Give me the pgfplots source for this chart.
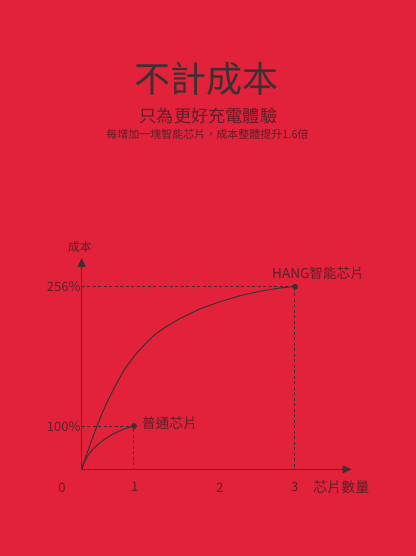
\documentclass[border=0pt]{standalone}
\usepackage{fontspec}
\setmainfont{Noto Sans CJK TC}
\usepackage{pgfplots}
\pgfplotsset{compat=1.18}
\usetikzlibrary{arrows.meta}

\definecolor{bgred}{HTML}{E2223A}
\definecolor{ink}{HTML}{3C3034}
\definecolor{soft}{HTML}{5E1F29}

\begin{document}
\begin{tikzpicture}
\path[use as bounding box] (-81.7bp,-86.7bp) rectangle (334.3bp,469.3bp);
\fill[bgred] (-81.7bp,-86.7bp) rectangle (334.3bp,469.3bp);

% titles
\node[ink, inner sep=0pt] at (124.3bp,390.3bp) {\fontsize{36bp}{40bp}\selectfont 不計成本};
\node[soft, inner sep=0pt] at (126.8bp,353.6bp) {\fontsize{17.2bp}{20bp}\selectfont 只為更好充電體驗};
\node[soft, inner sep=0pt] at (125.8bp,335.3bp) {\fontsize{11bp}{12bp}\selectfont 每增加一塊智能芯片，成本整體提升1.6倍};

\begin{axis}[
    at={(0,0)}, anchor=south west,
    x=1bp, y=1bp,
    xmin=0, xmax=270,
    ymin=0, ymax=211.5,
    axis lines=left,
    axis line style={ink, line width=1.6bp, -{Triangle[length=9bp,width=7.5bp]}},
    clip=false,
    major tick length=0pt,
    xtick={53,138,213},
    xticklabels={1,2,3},
    ytick={42.6,182.6},
    yticklabels={100\%,256\%},
    /pgf/number format/assume math mode=true,
    ticklabel style={soft, font=\fontsize{13bp}{15bp}\selectfont},
    xticklabel style={anchor=center, yshift=-18bp},
    yticklabel style={anchor=east, inner sep=1bp},
]
% guide lines
\addplot[ink, line width=1bp, dash pattern=on 3bp off 2.5bp] coordinates {(0,42.6)(52.3,42.6)(52.3,0)};
\addplot[ink, line width=1bp, dash pattern=on 3bp off 2.5bp] coordinates {(0,182.6)(213.3,182.6)(213.3,0)};

% HANG smart chip curve
\addplot[ink, line width=1bp, smooth] coordinates {
    (0,0)(5,15)(10,29)(15,42.5)(20,55)(26,68.5)(34,84)(43,100)(55,116)
    (73,134.5)(90,146)(103,153)(120,161)(140,168)(160,174)(180,178.3)
    (200,181.5)(213.3,182.6)
};
% ordinary chip curve
\addplot[ink, line width=1bp, smooth] coordinates {
    (0,0)(3,8)(6,13.5)(11.3,20)(17,25.5)(23,30)(30,34.5)(36.3,37.6)
    (43,40.5)(48,42.2)(52.3,43.3)
};
% end points
\addplot[ink, only marks, mark=*, mark size=2.6bp] coordinates {(52.3,43.3)(213.3,182.6)};

\node[soft, font=\fontsize{12bp}{14bp}\selectfont] at (axis cs:-1.7,222.3) {成本};
\node[soft, font=\fontsize{14bp}{16bp}\selectfont] at (axis cs:259.6,-18.2) {芯片數量};
\node[soft, font=\fontsize{13bp}{15bp}\selectfont] at (axis cs:-19.7,-18.7) {0};
\node[soft, font=\fontsize{13.6bp}{16bp}\selectfont] at (axis cs:236.3,196.3) {HANG智能芯片};
\node[soft, font=\fontsize{13.8bp}{16bp}\selectfont] at (axis cs:87.8,46.3) {普通芯片};
\end{axis}
\end{tikzpicture}
\end{document}
